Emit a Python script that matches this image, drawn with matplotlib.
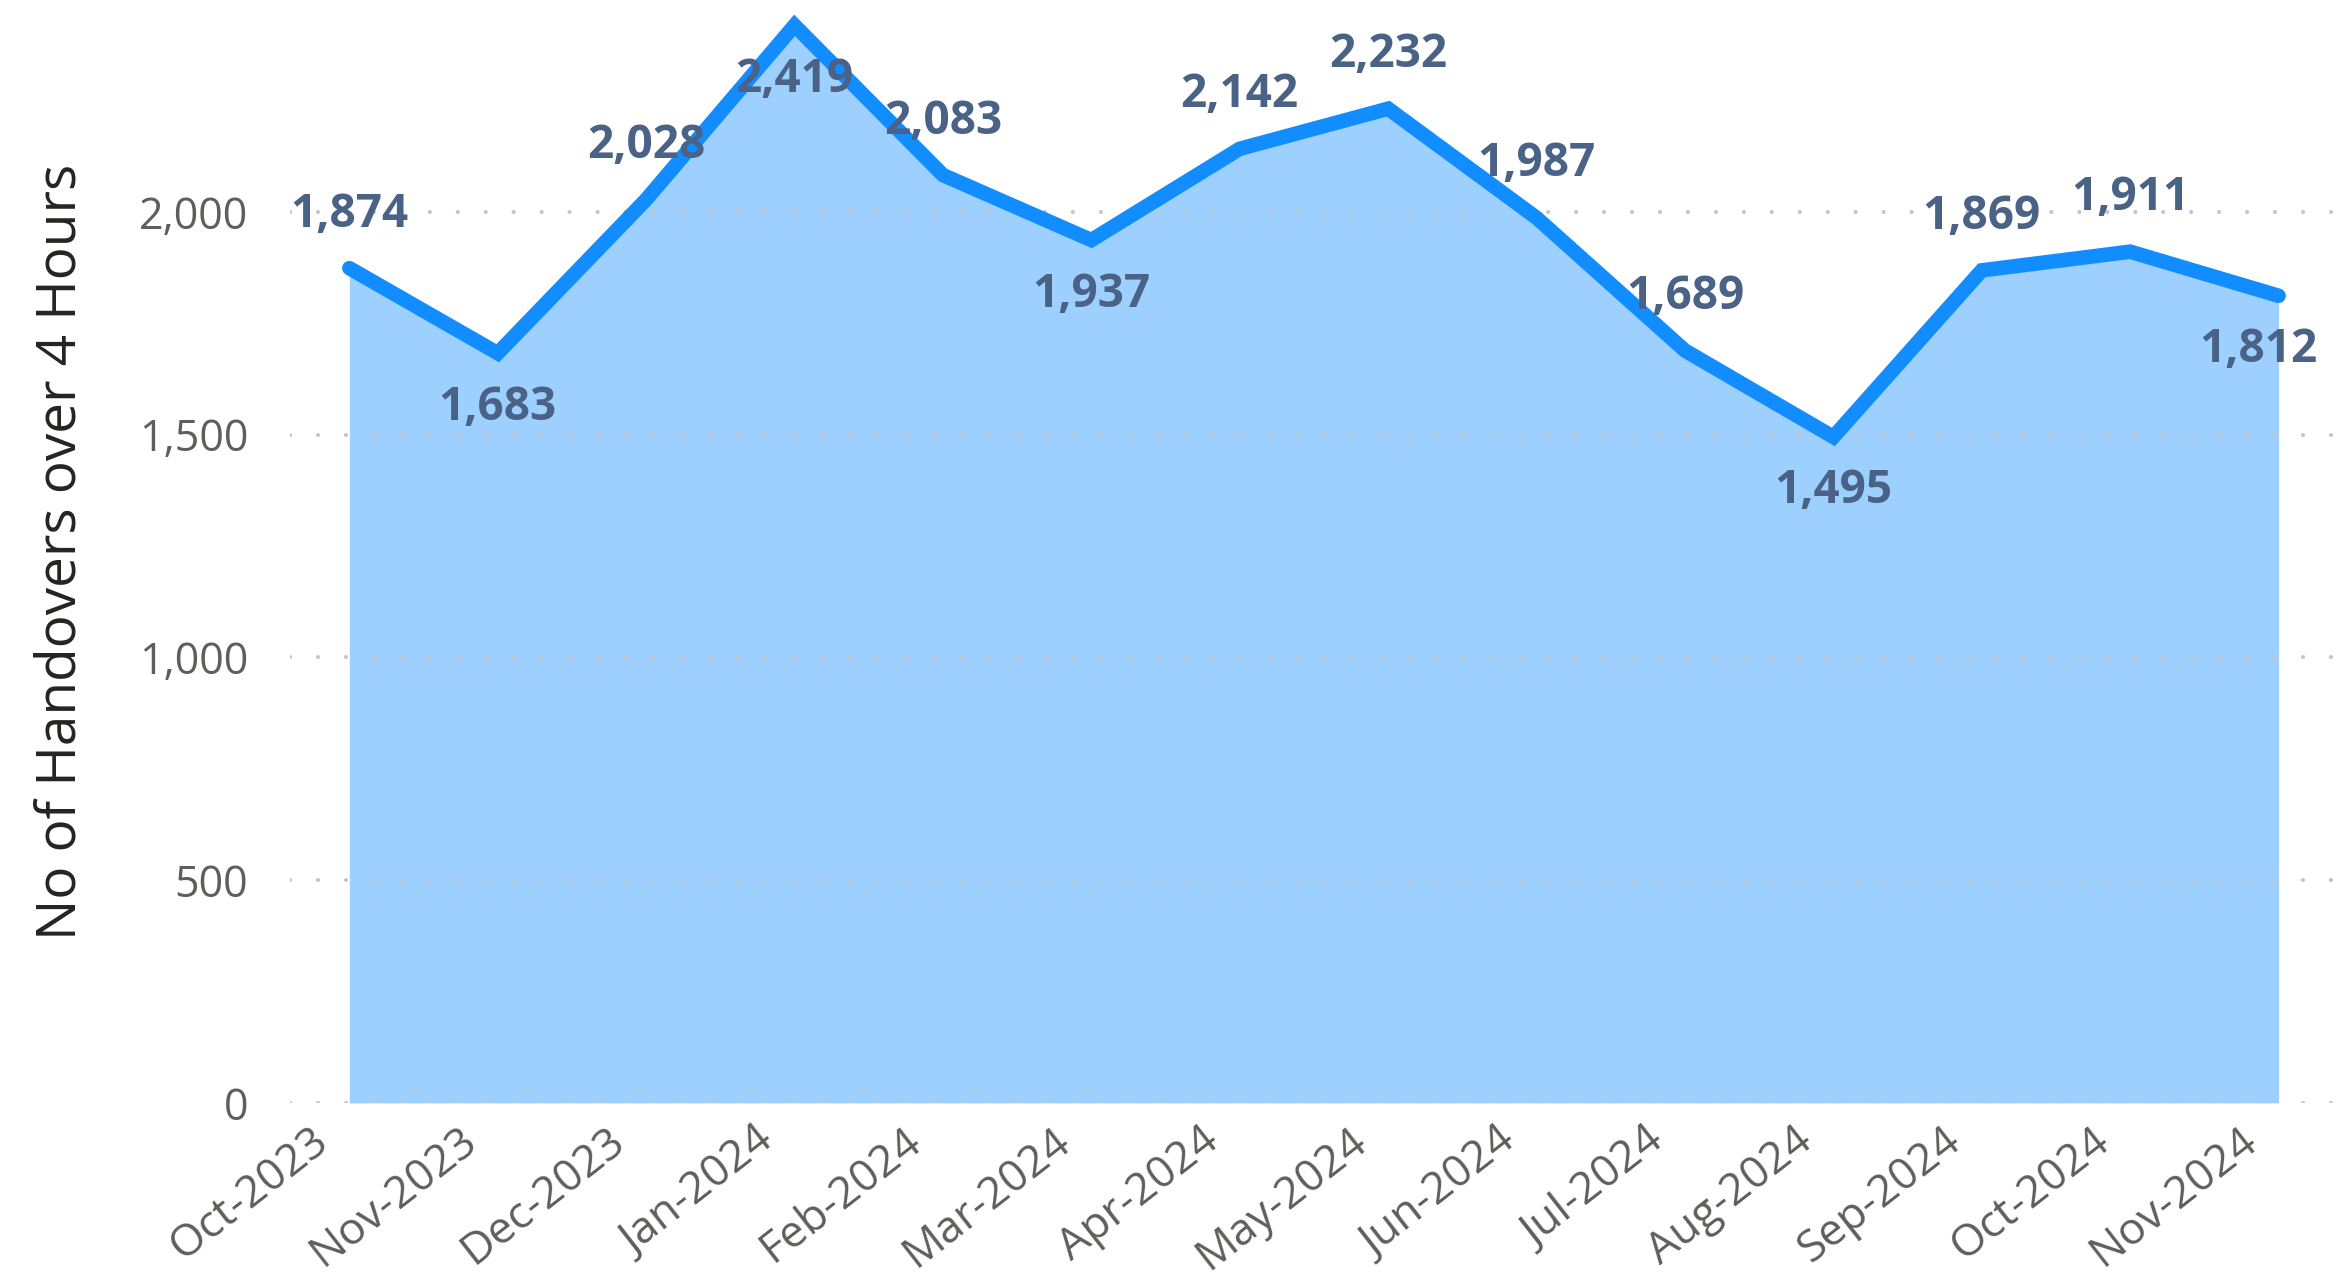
import numpy as np
import matplotlib.pyplot as plt
import matplotlib.transforms as mtransforms
from matplotlib.ticker import FuncFormatter

months = ['Oct-2023', 'Nov-2023', 'Dec-2023', 'Jan-2024', 'Feb-2024', 'Mar-2024', 'Apr-2024',
          'May-2024', 'Jun-2024', 'Jul-2024', 'Aug-2024', 'Sep-2024', 'Oct-2024', 'Nov-2024']
handovers = [1874, 1683, 2028, 2419, 2083, 1937, 2142, 2232, 1987, 1689, 1495, 1869, 1911, 1812]
# 1 = label above the point, -1 = below
label_side = [1, -1, 1, -1, 1, -1, 1, 1, 1, 1, -1, 1, 1, -1]

plt.rcParams['font.family'] = ['Open Sans', 'DejaVu Sans']

fig = plt.figure(figsize=(23.46, 12.75), dpi=100)
ax = fig.add_axes([0.1236, 0.135, 0.8717, 0.865])

x = np.arange(len(months))
ax.fill_between(x, handovers, 0, color='#9ED0FF', linewidth=0, zorder=1)
ax.plot(x, handovers, color='#118DFF', linewidth=10.5, solid_capstyle='round',
        solid_joinstyle='miter', zorder=3)

for i, v in enumerate(handovers):
    dx = -20 if i == len(handovers) - 1 else 0
    ax.annotate(f'{v:,}', (i, v), xytext=(dx, 54 * label_side[i]), textcoords='offset pixels',
                ha='center', va='center', fontsize=33, fontweight='bold', color='#4A6285',
                zorder=4, annotation_clip=False)

ax.set_xlim(-0.4, 13.38)
ax.set_ylim(0, 2476)
ax.set_yticks([0, 500, 1000, 1500, 2000])
ax.yaxis.set_major_formatter(FuncFormatter(lambda v, p: f'{int(v):,}'))
ax.set_xticks(x)
ax.set_xticklabels(months)

ax.set_axisbelow(False)
ax.yaxis.grid(True, color='#C8C6C4', linewidth=3, linestyle=(0, (0.01, 6.7)),
              dash_capstyle='round', zorder=2)
ax.xaxis.grid(False)
for s in ax.spines.values():
    s.set_visible(False)

ax.tick_params(axis='both', length=0, labelsize=31, labelcolor='#605E5C')
ax.tick_params(axis='y', pad=30)
ax.tick_params(axis='x', pad=24, labelsize=32)
shift = mtransforms.ScaledTranslation(-26 / 100, 0, fig.dpi_scale_trans)
for lbl in ax.get_xticklabels():
    lbl.set_rotation(38)
    lbl.set_ha('right')
    lbl.set_va('center')
    lbl.set_rotation_mode('anchor')
    lbl.set_transform(lbl.get_transform() + shift)

ax.set_ylabel('No of Handovers over 4 Hours', fontsize=39.5, color='#252423', labelpad=36)

fig.savefig('out.png', dpi=100, facecolor='white')
